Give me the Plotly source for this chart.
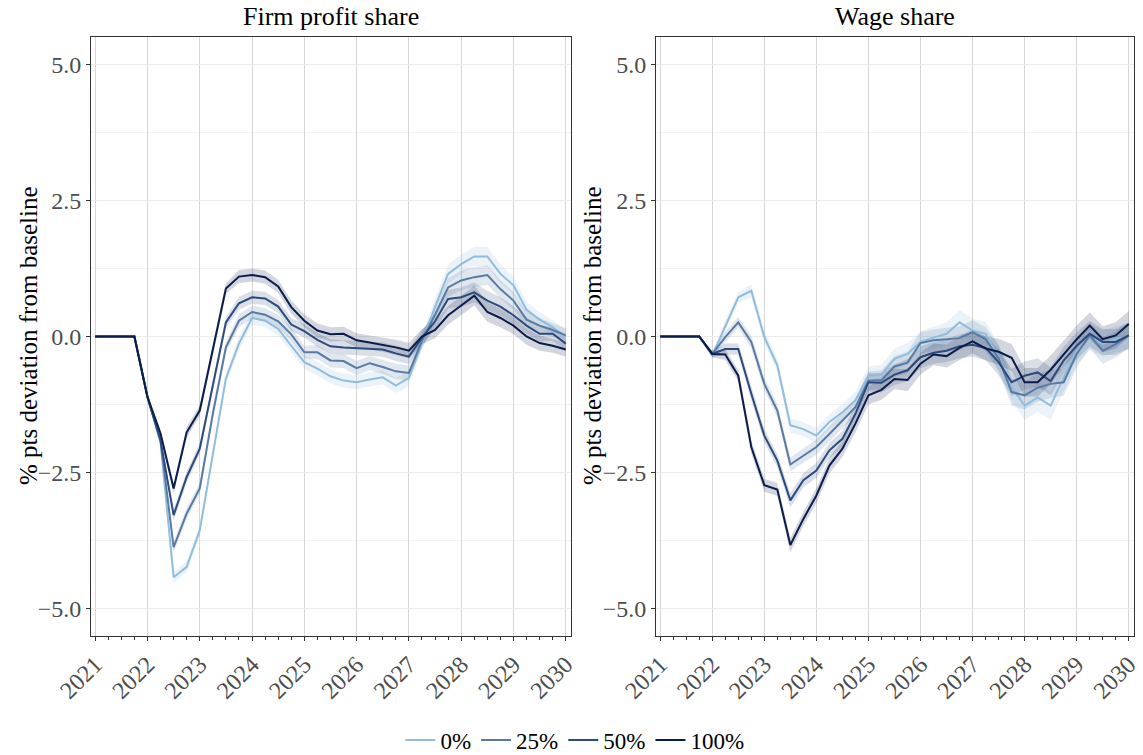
import plotly.graph_objects as go

# ---------------- data ----------------
quarters = [y + q / 4 for y in range(2021, 2030) for q in range(4)] + [2030.0]
year_ticks = list(range(2021, 2031))
y_ticks = [-5.0, -2.5, 0.0, 2.5, 5.0]
series_names = ["0%", "25%", "50%", "100%"]
line_colors = ["#92bcdc", "#587aa3", "#2c4a7c", "#0b1c4b"]
panel_titles = ["Firm profit share", "Wage share"]

profit_0 = [0, 0, 0, 0, -1.11, -1.95, -4.42, -4.23, -3.56, -2.15, -0.77, -0.13, 0.34,
            0.29, 0.14, -0.17, -0.47, -0.59, -0.73, -0.81, -0.84, -0.79, -0.75, -0.90,
            -0.76, -0.12, 0.55, 1.15, 1.33, 1.47, 1.47, 1.15, 0.94, 0.49, 0.31, 0.17, 0.0]
profit_25 = [0, 0, 0, 0, -1.11, -1.91, -3.87, -3.25, -2.79, -1.42, -0.20, 0.29, 0.45,
             0.40, 0.28, 0.04, -0.29, -0.29, -0.44, -0.45, -0.58, -0.49, -0.56, -0.64,
             -0.67, -0.08, 0.40, 0.90, 1.03, 1.09, 1.13, 0.87, 0.66, 0.31, 0.20, 0.12, 0.02]
profit_50 = [0, 0, 0, 0, -1.11, -1.91, -3.28, -2.58, -2.06, -0.93, 0.26, 0.61, 0.72,
             0.70, 0.55, 0.22, 0.10, -0.06, -0.18, -0.20, -0.21, -0.23, -0.24, -0.31,
             -0.37, -0.02, 0.28, 0.69, 0.72, 0.81, 0.66, 0.55, 0.39, 0.20, 0.05, 0.05, -0.13]
profit_100 = [0, 0, 0, 0, -1.11, -1.78, -2.79, -1.76, -1.36, -0.26, 0.88, 1.10, 1.13,
              1.09, 0.92, 0.54, 0.29, 0.11, 0.04, 0.05, -0.07, -0.11, -0.15, -0.20,
              -0.26, 0.0, 0.12, 0.39, 0.57, 0.75, 0.45, 0.34, 0.20, 0.0, -0.12, -0.17, -0.24]

wage_0 = [0, 0, 0, 0, -0.35, 0.20, 0.72, 0.84, -0.01, -0.53, -1.63, -1.70, -1.82,
          -1.57, -1.39, -1.17, -0.72, -0.70, -0.41, -0.32, -0.10, -0.02, 0.05, 0.26,
          0.11, 0.05, -0.38, -0.93, -1.27, -1.12, -1.27, -0.75, -0.26, -0.01, -0.13, -0.05, 0.0]
wage_25 = [0, 0, 0, 0, -0.32, -0.01, 0.26, -0.10, -0.87, -1.36, -2.35, -2.19, -2.03,
           -1.79, -1.54, -1.30, -0.81, -0.80, -0.55, -0.48, -0.12, -0.07, -0.05, -0.03,
           0.08, -0.05, -0.40, -1.02, -1.08, -0.94, -0.87, -0.84, -0.32, 0.02, -0.26, -0.14, 0.02]
wage_50 = [0, 0, 0, 0, -0.32, -0.23, -0.23, -1.05, -1.82, -2.28, -3.01, -2.64, -2.46,
           -2.09, -1.88, -1.42, -0.84, -0.85, -0.70, -0.62, -0.38, -0.30, -0.26, -0.18,
           -0.15, -0.21, -0.47, -0.84, -0.72, -0.66, -0.82, -0.44, -0.17, 0.05, -0.10, -0.10, 0.02]
wage_100 = [0, 0, 0, 0, -0.32, -0.33, -0.72, -2.03, -2.73, -2.81, -3.83, -3.35, -2.92,
            -2.37, -2.06, -1.60, -1.08, -0.98, -0.78, -0.80, -0.50, -0.33, -0.36, -0.21,
            -0.09, -0.22, -0.28, -0.39, -0.84, -0.84, -0.61, -0.32, -0.05, 0.20, -0.05, 0.02, 0.23]

# half-width of the uncertainty ribbons
profit_band = [0, 0, 0, 0, 0.03, 0.06, 0.10, 0.10, 0.10, 0.10, 0.10, 0.12, 0.12,
               0.12, 0.12, 0.12, 0.12, 0.13, 0.13, 0.13, 0.13, 0.13, 0.13, 0.14,
               0.14, 0.14, 0.15, 0.17, 0.18, 0.18, 0.18, 0.17, 0.16, 0.15, 0.14, 0.13, 0.13]
wage_band = [0, 0, 0, 0, 0.06, 0.10, 0.10, 0.12, 0.12, 0.12, 0.13, 0.13, 0.14,
             0.14, 0.15, 0.16, 0.17, 0.18, 0.19, 0.20, 0.20, 0.20, 0.21, 0.22,
             0.22, 0.22, 0.24, 0.25, 0.26, 0.26, 0.26, 0.25, 0.25, 0.24, 0.24, 0.24, 0.24]

panels = [
    ([profit_0, profit_25, profit_50, profit_100], profit_band),
    ([wage_0, wage_25, wage_50, wage_100], wage_band),
]

# ---------------- figure ----------------
FONT = "Liberation Serif, Times New Roman, serif"


def rgba(hexc, a):
    h = hexc.lstrip("#")
    r, g, b = int(h[0:2], 16), int(h[2:4], 16), int(h[4:6], 16)
    return f"rgba({r},{g},{b},{a})"


fig = go.Figure()
axes = [("x", "y"), ("x2", "y2")]

for p, (series, band) in enumerate(panels):
    xa, ya = axes[p]
    for s, vals in enumerate(series):
        upper = [v + b for v, b in zip(vals, band)]
        lower = [v - b for v, b in zip(vals, band)]
        fig.add_trace(go.Scatter(
            x=quarters + quarters[::-1], y=upper + lower[::-1],
            fill="toself", fillcolor=rgba(line_colors[s], 0.18),
            line=dict(width=0), mode="lines", hoverinfo="skip",
            showlegend=False, xaxis=xa, yaxis=ya))
    for s, vals in enumerate(series):
        fig.add_trace(go.Scatter(
            x=quarters, y=vals, mode="lines",
            line=dict(color=line_colors[s], width=2),
            name=series_names[s], legendgroup=series_names[s],
            showlegend=(p == 0), xaxis=xa, yaxis=ya))

W, H = 1143, 755
left_dom = [91 / W, 571 / W]
right_dom = [656 / W, 1134 / W]
y_dom = [1 - 636 / H, 1 - 37 / H]

xcommon = dict(
    range=[2020.92, 2030.1], tickmode="array", tickvals=year_ticks,
    ticktext=[str(y) for y in year_ticks], tickangle=-45,
    tickfont=dict(family=FONT, size=24, color="#4d4d4d"),
    ticks="outside", ticklen=4, tickcolor="#333333",
    showgrid=True, gridcolor="#d6d6d6", gridwidth=1,
    showline=True, linecolor="#333333", linewidth=1, mirror=True,
    zeroline=False, automargin=False,
    minor=dict(dtick=0.25, tick0=2021, ticks="outside", ticklen=3,
               tickcolor="#333333", showgrid=False),
)
ycommon = dict(
    range=[-5.5, 5.5], tickmode="array", tickvals=y_ticks,
    ticktext=["\u22125.0", "\u22122.5", "0.0", "2.5", "5.0"],
    tickfont=dict(family=FONT, size=24, color="#4d4d4d"),
    ticks="outside", ticklen=4, tickcolor="#333333",
    showgrid=True, gridcolor="#ebebeb", gridwidth=1,
    showline=True, linecolor="#333333", linewidth=1, mirror=True,
    zeroline=False, automargin=False,
    minor=dict(dtick=1.25, tick0=0, showgrid=True, gridcolor="#f2f2f2",
               gridwidth=1, ticks=""),
)

fig.update_layout(
    width=W, height=H,
    margin=dict(l=0, r=0, t=0, b=0, autoexpand=False),
    paper_bgcolor="white", plot_bgcolor="white",
    font=dict(family=FONT, color="black"),
    xaxis=dict(domain=left_dom, anchor="y", **xcommon),
    yaxis=dict(domain=y_dom, anchor="x", **ycommon),
    xaxis2=dict(domain=right_dom, anchor="y2", **xcommon),
    yaxis2=dict(domain=y_dom, anchor="x2", **ycommon),
    legend=dict(orientation="h", x=0.503, xanchor="center", y=1 - 740 / H,
                yanchor="middle", font=dict(family=FONT, size=23, color="black"),
                itemwidth=30, tracegroupgap=0, bgcolor="rgba(0,0,0,0)"),
    showlegend=True,
)

annotations = []
for p, dom in enumerate([left_dom, right_dom]):
    annotations.append(dict(
        text=panel_titles[p], x=(dom[0] + dom[1]) / 2, y=1 - 16 / H,
        xref="paper", yref="paper", xanchor="center", yanchor="middle",
        showarrow=False, font=dict(family=FONT, size=26, color="black")))
for xpix in (28, 592):
    annotations.append(dict(
        text="% pts deviation from baseline", x=xpix / W, y=1 - 336 / H,
        xref="paper", yref="paper", xanchor="center", yanchor="middle",
        textangle=-90, showarrow=False,
        font=dict(family=FONT, size=25, color="black")))
fig.update_layout(annotations=annotations)

fig.write_html(
    "out.html",
    config={"displayModeBar": False},
    post_script="document.body.style.margin='0';document.body.style.overflow='hidden';",
)
